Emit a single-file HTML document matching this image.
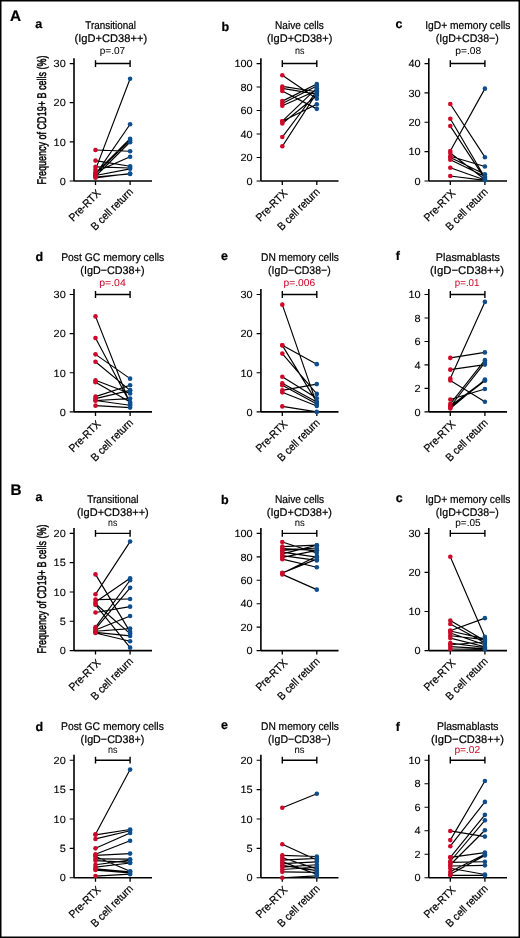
<!DOCTYPE html><html><head><meta charset="utf-8"><title>Figure</title><style>
html,body{margin:0;padding:0;background:#fff;}body{width:520px;height:938px;overflow:hidden;}
svg{display:block;will-change:transform;}text{font-family:"Liberation Sans",sans-serif;fill:#000;text-rendering:geometricPrecision;stroke:#000;stroke-width:0.22px;}
</style></head><body>
<svg width="520" height="938" viewBox="0 0 520 938">
<rect x="0" y="0" width="520" height="938" fill="#fff"/>
<g><path d="M74 58.15V180.95M74 180.95H152" stroke="#000" stroke-width="1.6" fill="none"/><path d="M69.7 180.95H74M69.7 141.82H74M69.7 102.68H74M69.7 63.55H74" stroke="#000" stroke-width="1.15" fill="none"/><path d="M95.5 180.95V184.95M130.1 180.95V184.95" stroke="#000" stroke-width="1.3" fill="none"/><text x="65.8" y="184.7" font-size="10.4" text-anchor="end" textLength="6.1" lengthAdjust="spacingAndGlyphs" style="stroke-width:0.1px">0</text><text x="65.8" y="145.57" font-size="10.4" text-anchor="end" textLength="12.2" lengthAdjust="spacingAndGlyphs" style="stroke-width:0.1px">10</text><text x="65.8" y="106.43" font-size="10.4" text-anchor="end" textLength="12.2" lengthAdjust="spacingAndGlyphs" style="stroke-width:0.1px">20</text><text x="65.8" y="67.3" font-size="10.4" text-anchor="end" textLength="12.2" lengthAdjust="spacingAndGlyphs" style="stroke-width:0.1px">30</text><path d="M95.5 63.55H130.1M95.5 60.15V66.95M130.1 60.15V66.95" stroke="#000" stroke-width="1.4" fill="none"/><path d="M95.5 169.6L130.1 78.81M95.5 174.69L130.1 124.21M95.5 173.12L130.1 138.69M95.5 173.91L130.1 140.45M95.5 176.25L130.1 142.21M95.5 150.03L130.1 151.21M95.5 171.95L130.1 156.69M95.5 160.6L130.1 166.27M95.5 166.86L130.1 168.04M95.5 175.47L130.1 168.82M95.5 177.04L130.1 173.91M95.5 177.82L130.1 173.51" stroke="#000" stroke-width="1.15" fill="none"/><circle cx="95.5" cy="169.6" r="2.3" fill="#cc0a2a"/><circle cx="95.5" cy="174.69" r="2.3" fill="#cc0a2a"/><circle cx="95.5" cy="173.12" r="2.3" fill="#cc0a2a"/><circle cx="95.5" cy="173.91" r="2.3" fill="#cc0a2a"/><circle cx="95.5" cy="176.25" r="2.3" fill="#cc0a2a"/><circle cx="95.5" cy="150.03" r="2.3" fill="#cc0a2a"/><circle cx="95.5" cy="171.95" r="2.3" fill="#cc0a2a"/><circle cx="95.5" cy="160.6" r="2.3" fill="#cc0a2a"/><circle cx="95.5" cy="166.86" r="2.3" fill="#cc0a2a"/><circle cx="95.5" cy="175.47" r="2.3" fill="#cc0a2a"/><circle cx="95.5" cy="177.04" r="2.3" fill="#cc0a2a"/><circle cx="95.5" cy="177.82" r="2.3" fill="#cc0a2a"/><circle cx="130.1" cy="78.81" r="2.3" fill="#0f4e8b"/><circle cx="130.1" cy="124.21" r="2.3" fill="#0f4e8b"/><circle cx="130.1" cy="138.69" r="2.3" fill="#0f4e8b"/><circle cx="130.1" cy="140.45" r="2.3" fill="#0f4e8b"/><circle cx="130.1" cy="142.21" r="2.3" fill="#0f4e8b"/><circle cx="130.1" cy="151.21" r="2.3" fill="#0f4e8b"/><circle cx="130.1" cy="156.69" r="2.3" fill="#0f4e8b"/><circle cx="130.1" cy="166.27" r="2.3" fill="#0f4e8b"/><circle cx="130.1" cy="168.04" r="2.3" fill="#0f4e8b"/><circle cx="130.1" cy="168.82" r="2.3" fill="#0f4e8b"/><circle cx="130.1" cy="173.91" r="2.3" fill="#0f4e8b"/><circle cx="130.1" cy="173.51" r="2.3" fill="#0f4e8b"/><text transform="translate(101.3 193.95) rotate(-45)" font-size="11" text-anchor="end" textLength="39.5" lengthAdjust="spacingAndGlyphs">Pre-RTX</text><text transform="translate(133.7 192.45) rotate(-45)" font-size="11" text-anchor="end" textLength="54.5" lengthAdjust="spacingAndGlyphs">B cell return</text><text x="110.65" y="29.2" font-size="11.2" text-anchor="middle" textLength="50.7" lengthAdjust="spacingAndGlyphs" style="fill:#000;stroke:#000;stroke-width:0.22px">Transitional</text><text x="110.85" y="42.4" font-size="11.2" text-anchor="middle" textLength="72.5" lengthAdjust="spacingAndGlyphs" style="fill:#000;stroke:#000;stroke-width:0.22px">(IgD+CD38++)</text><text x="112.45" y="54.4" font-size="10.0" text-anchor="middle" textLength="25.5" lengthAdjust="spacingAndGlyphs" style="fill:#000;stroke:#000;stroke-width:0.05px">p=.07</text></g>
<g><path d="M260.9 58.15V180.95M260.9 180.95H338.5" stroke="#000" stroke-width="1.6" fill="none"/><path d="M256.6 180.95H260.9M256.6 157.47H260.9M256.6 133.99H260.9M256.6 110.51H260.9M256.6 87.03H260.9M256.6 63.55H260.9" stroke="#000" stroke-width="1.15" fill="none"/><path d="M282.3 180.95V184.95M316.8 180.95V184.95" stroke="#000" stroke-width="1.3" fill="none"/><text x="252.7" y="184.7" font-size="10.4" text-anchor="end" textLength="6.1" lengthAdjust="spacingAndGlyphs" style="stroke-width:0.1px">0</text><text x="252.7" y="161.22" font-size="10.4" text-anchor="end" textLength="12.2" lengthAdjust="spacingAndGlyphs" style="stroke-width:0.1px">20</text><text x="252.7" y="137.74" font-size="10.4" text-anchor="end" textLength="12.2" lengthAdjust="spacingAndGlyphs" style="stroke-width:0.1px">40</text><text x="252.7" y="114.26" font-size="10.4" text-anchor="end" textLength="12.2" lengthAdjust="spacingAndGlyphs" style="stroke-width:0.1px">60</text><text x="252.7" y="90.78" font-size="10.4" text-anchor="end" textLength="12.2" lengthAdjust="spacingAndGlyphs" style="stroke-width:0.1px">80</text><text x="252.7" y="67.3" font-size="10.4" text-anchor="end" textLength="18.3" lengthAdjust="spacingAndGlyphs" style="stroke-width:0.1px">100</text><path d="M282.3 63.55H316.8M282.3 60.15V66.95M316.8 60.15V66.95" stroke="#000" stroke-width="1.4" fill="none"/><path d="M282.3 75.29L316.8 98.77M282.3 86.44L316.8 91.73M282.3 88.44L316.8 94.07M282.3 90.9L316.8 108.87M282.3 101.12L316.8 84.09M282.3 103.47L316.8 86.09M282.3 105.81L316.8 90.55M282.3 121.19L316.8 88.2M282.3 121.19L316.8 104.29M282.3 123.54L316.8 95.48M282.3 137.04L316.8 91.26M282.3 146.32L316.8 93.02" stroke="#000" stroke-width="1.15" fill="none"/><circle cx="282.3" cy="75.29" r="2.3" fill="#cc0a2a"/><circle cx="282.3" cy="86.44" r="2.3" fill="#cc0a2a"/><circle cx="282.3" cy="88.44" r="2.3" fill="#cc0a2a"/><circle cx="282.3" cy="90.9" r="2.3" fill="#cc0a2a"/><circle cx="282.3" cy="101.12" r="2.3" fill="#cc0a2a"/><circle cx="282.3" cy="103.47" r="2.3" fill="#cc0a2a"/><circle cx="282.3" cy="105.81" r="2.3" fill="#cc0a2a"/><circle cx="282.3" cy="121.19" r="2.3" fill="#cc0a2a"/><circle cx="282.3" cy="121.19" r="2.3" fill="#cc0a2a"/><circle cx="282.3" cy="123.54" r="2.3" fill="#cc0a2a"/><circle cx="282.3" cy="137.04" r="2.3" fill="#cc0a2a"/><circle cx="282.3" cy="146.32" r="2.3" fill="#cc0a2a"/><circle cx="316.8" cy="98.77" r="2.3" fill="#0f4e8b"/><circle cx="316.8" cy="91.73" r="2.3" fill="#0f4e8b"/><circle cx="316.8" cy="94.07" r="2.3" fill="#0f4e8b"/><circle cx="316.8" cy="108.87" r="2.3" fill="#0f4e8b"/><circle cx="316.8" cy="84.09" r="2.3" fill="#0f4e8b"/><circle cx="316.8" cy="86.09" r="2.3" fill="#0f4e8b"/><circle cx="316.8" cy="90.55" r="2.3" fill="#0f4e8b"/><circle cx="316.8" cy="88.2" r="2.3" fill="#0f4e8b"/><circle cx="316.8" cy="104.29" r="2.3" fill="#0f4e8b"/><circle cx="316.8" cy="95.48" r="2.3" fill="#0f4e8b"/><circle cx="316.8" cy="91.26" r="2.3" fill="#0f4e8b"/><circle cx="316.8" cy="93.02" r="2.3" fill="#0f4e8b"/><text transform="translate(288.1 193.95) rotate(-45)" font-size="11" text-anchor="end" textLength="39.5" lengthAdjust="spacingAndGlyphs">Pre-RTX</text><text transform="translate(320.4 192.45) rotate(-45)" font-size="11" text-anchor="end" textLength="54.5" lengthAdjust="spacingAndGlyphs">B cell return</text><text x="299.45" y="29.2" font-size="11.2" text-anchor="middle" textLength="48.7" lengthAdjust="spacingAndGlyphs" style="fill:#000;stroke:#000;stroke-width:0.22px">Naive cells</text><text x="299.6" y="42.4" font-size="11.2" text-anchor="middle" textLength="65.4" lengthAdjust="spacingAndGlyphs" style="fill:#000;stroke:#000;stroke-width:0.22px">(IgD+CD38+)</text><text x="299.85" y="54.4" font-size="10.0" text-anchor="middle" textLength="9.5" lengthAdjust="spacingAndGlyphs" style="fill:#000;stroke:#000;stroke-width:0.05px">ns</text></g>
<g><path d="M428.8 58.15V180.95M428.8 180.95H507" stroke="#000" stroke-width="1.6" fill="none"/><path d="M424.5 180.95H428.8M424.5 151.6H428.8M424.5 122.25H428.8M424.5 92.9H428.8M424.5 63.55H428.8" stroke="#000" stroke-width="1.15" fill="none"/><path d="M450.3 180.95V184.95M484.9 180.95V184.95" stroke="#000" stroke-width="1.3" fill="none"/><text x="420.6" y="184.7" font-size="10.4" text-anchor="end" textLength="6.1" lengthAdjust="spacingAndGlyphs" style="stroke-width:0.1px">0</text><text x="420.6" y="155.35" font-size="10.4" text-anchor="end" textLength="12.2" lengthAdjust="spacingAndGlyphs" style="stroke-width:0.1px">10</text><text x="420.6" y="126" font-size="10.4" text-anchor="end" textLength="12.2" lengthAdjust="spacingAndGlyphs" style="stroke-width:0.1px">20</text><text x="420.6" y="96.65" font-size="10.4" text-anchor="end" textLength="12.2" lengthAdjust="spacingAndGlyphs" style="stroke-width:0.1px">30</text><text x="420.6" y="67.3" font-size="10.4" text-anchor="end" textLength="12.2" lengthAdjust="spacingAndGlyphs" style="stroke-width:0.1px">40</text><path d="M450.3 63.55H484.9M450.3 60.15V66.95M484.9 60.15V66.95" stroke="#000" stroke-width="1.4" fill="none"/><path d="M450.3 151.01L484.9 88.64M450.3 104.05L484.9 157.18M450.3 118.73L484.9 177.43M450.3 126.07L484.9 178.6M450.3 153.07L484.9 179.48M450.3 156.3L484.9 166.57M450.3 159.82L484.9 176.55M450.3 157.47L484.9 174.2M450.3 167.74L484.9 180.07M450.3 175.96L484.9 180.36" stroke="#000" stroke-width="1.15" fill="none"/><circle cx="450.3" cy="151.01" r="2.3" fill="#cc0a2a"/><circle cx="450.3" cy="104.05" r="2.3" fill="#cc0a2a"/><circle cx="450.3" cy="118.73" r="2.3" fill="#cc0a2a"/><circle cx="450.3" cy="126.07" r="2.3" fill="#cc0a2a"/><circle cx="450.3" cy="153.07" r="2.3" fill="#cc0a2a"/><circle cx="450.3" cy="156.3" r="2.3" fill="#cc0a2a"/><circle cx="450.3" cy="159.82" r="2.3" fill="#cc0a2a"/><circle cx="450.3" cy="157.47" r="2.3" fill="#cc0a2a"/><circle cx="450.3" cy="167.74" r="2.3" fill="#cc0a2a"/><circle cx="450.3" cy="175.96" r="2.3" fill="#cc0a2a"/><circle cx="484.9" cy="88.64" r="2.3" fill="#0f4e8b"/><circle cx="484.9" cy="157.18" r="2.3" fill="#0f4e8b"/><circle cx="484.9" cy="177.43" r="2.3" fill="#0f4e8b"/><circle cx="484.9" cy="178.6" r="2.3" fill="#0f4e8b"/><circle cx="484.9" cy="179.48" r="2.3" fill="#0f4e8b"/><circle cx="484.9" cy="166.57" r="2.3" fill="#0f4e8b"/><circle cx="484.9" cy="176.55" r="2.3" fill="#0f4e8b"/><circle cx="484.9" cy="174.2" r="2.3" fill="#0f4e8b"/><circle cx="484.9" cy="180.07" r="2.3" fill="#0f4e8b"/><circle cx="484.9" cy="180.36" r="2.3" fill="#0f4e8b"/><text transform="translate(456.1 193.95) rotate(-45)" font-size="11" text-anchor="end" textLength="39.5" lengthAdjust="spacingAndGlyphs">Pre-RTX</text><text transform="translate(488.5 192.45) rotate(-45)" font-size="11" text-anchor="end" textLength="54.5" lengthAdjust="spacingAndGlyphs">B cell return</text><text x="467.8" y="29.2" font-size="11.2" text-anchor="middle" textLength="85.2" lengthAdjust="spacingAndGlyphs" style="fill:#000;stroke:#000;stroke-width:0.22px">IgD+ memory cells</text><text x="467.3" y="42.4" font-size="11.2" text-anchor="middle" textLength="63" lengthAdjust="spacingAndGlyphs" style="fill:#000;stroke:#000;stroke-width:0.22px">(IgD+CD38−)</text><text x="468.2" y="54.4" font-size="10.0" text-anchor="middle" textLength="26" lengthAdjust="spacingAndGlyphs" style="fill:#000;stroke:#000;stroke-width:0.05px">p=.08</text></g>
<g><path d="M74 289.1V411.9M74 411.9H152" stroke="#000" stroke-width="1.6" fill="none"/><path d="M69.7 411.9H74M69.7 372.77H74M69.7 333.63H74M69.7 294.5H74" stroke="#000" stroke-width="1.15" fill="none"/><path d="M95.5 411.9V415.9M130.1 411.9V415.9" stroke="#000" stroke-width="1.3" fill="none"/><text x="65.8" y="415.65" font-size="10.4" text-anchor="end" textLength="6.1" lengthAdjust="spacingAndGlyphs" style="stroke-width:0.1px">0</text><text x="65.8" y="376.52" font-size="10.4" text-anchor="end" textLength="12.2" lengthAdjust="spacingAndGlyphs" style="stroke-width:0.1px">10</text><text x="65.8" y="337.38" font-size="10.4" text-anchor="end" textLength="12.2" lengthAdjust="spacingAndGlyphs" style="stroke-width:0.1px">20</text><text x="65.8" y="298.25" font-size="10.4" text-anchor="end" textLength="12.2" lengthAdjust="spacingAndGlyphs" style="stroke-width:0.1px">30</text><path d="M95.5 294.5H130.1M95.5 291.1V297.9M130.1 291.1V297.9" stroke="#000" stroke-width="1.4" fill="none"/><path d="M95.5 316.41L130.1 404.07M95.5 337.94L130.1 402.9M95.5 354.37L130.1 378.64M95.5 361.81L130.1 390.38M95.5 380.2L130.1 393.51M95.5 382.16L130.1 402.12M95.5 396.64L130.1 385.29M95.5 398.59L130.1 390.38M95.5 400.55L130.1 398.59M95.5 400.55L130.1 405.25M95.5 405.64L130.1 407.6" stroke="#000" stroke-width="1.15" fill="none"/><circle cx="95.5" cy="316.41" r="2.3" fill="#cc0a2a"/><circle cx="95.5" cy="337.94" r="2.3" fill="#cc0a2a"/><circle cx="95.5" cy="354.37" r="2.3" fill="#cc0a2a"/><circle cx="95.5" cy="361.81" r="2.3" fill="#cc0a2a"/><circle cx="95.5" cy="380.2" r="2.3" fill="#cc0a2a"/><circle cx="95.5" cy="382.16" r="2.3" fill="#cc0a2a"/><circle cx="95.5" cy="396.64" r="2.3" fill="#cc0a2a"/><circle cx="95.5" cy="398.59" r="2.3" fill="#cc0a2a"/><circle cx="95.5" cy="400.55" r="2.3" fill="#cc0a2a"/><circle cx="95.5" cy="400.55" r="2.3" fill="#cc0a2a"/><circle cx="95.5" cy="405.64" r="2.3" fill="#cc0a2a"/><circle cx="130.1" cy="404.07" r="2.3" fill="#0f4e8b"/><circle cx="130.1" cy="402.9" r="2.3" fill="#0f4e8b"/><circle cx="130.1" cy="378.64" r="2.3" fill="#0f4e8b"/><circle cx="130.1" cy="390.38" r="2.3" fill="#0f4e8b"/><circle cx="130.1" cy="393.51" r="2.3" fill="#0f4e8b"/><circle cx="130.1" cy="402.12" r="2.3" fill="#0f4e8b"/><circle cx="130.1" cy="385.29" r="2.3" fill="#0f4e8b"/><circle cx="130.1" cy="390.38" r="2.3" fill="#0f4e8b"/><circle cx="130.1" cy="398.59" r="2.3" fill="#0f4e8b"/><circle cx="130.1" cy="405.25" r="2.3" fill="#0f4e8b"/><circle cx="130.1" cy="407.6" r="2.3" fill="#0f4e8b"/><text transform="translate(101.3 424.9) rotate(-45)" font-size="11" text-anchor="end" textLength="39.5" lengthAdjust="spacingAndGlyphs">Pre-RTX</text><text transform="translate(133.7 423.4) rotate(-45)" font-size="11" text-anchor="end" textLength="54.5" lengthAdjust="spacingAndGlyphs">B cell return</text><text x="112.75" y="260.8" font-size="11.2" text-anchor="middle" textLength="103.1" lengthAdjust="spacingAndGlyphs" style="fill:#000;stroke:#000;stroke-width:0.22px">Post GC memory cells</text><text x="112.4" y="273.8" font-size="11.2" text-anchor="middle" textLength="64.2" lengthAdjust="spacingAndGlyphs" style="fill:#000;stroke:#000;stroke-width:0.22px">(IgD−CD38+)</text><text x="112.5" y="285.8" font-size="10.0" text-anchor="middle" textLength="26.4" lengthAdjust="spacingAndGlyphs" style="fill:#cc0a2a;stroke:#cc0a2a;stroke-width:0.05px">p=.04</text></g>
<g><path d="M260.9 289.1V411.9M260.9 411.9H338.5" stroke="#000" stroke-width="1.6" fill="none"/><path d="M256.6 411.9H260.9M256.6 372.77H260.9M256.6 333.63H260.9M256.6 294.5H260.9" stroke="#000" stroke-width="1.15" fill="none"/><path d="M282.3 411.9V415.9M316.8 411.9V415.9" stroke="#000" stroke-width="1.3" fill="none"/><text x="252.7" y="415.65" font-size="10.4" text-anchor="end" textLength="6.1" lengthAdjust="spacingAndGlyphs" style="stroke-width:0.1px">0</text><text x="252.7" y="376.52" font-size="10.4" text-anchor="end" textLength="12.2" lengthAdjust="spacingAndGlyphs" style="stroke-width:0.1px">10</text><text x="252.7" y="337.38" font-size="10.4" text-anchor="end" textLength="12.2" lengthAdjust="spacingAndGlyphs" style="stroke-width:0.1px">20</text><text x="252.7" y="298.25" font-size="10.4" text-anchor="end" textLength="12.2" lengthAdjust="spacingAndGlyphs" style="stroke-width:0.1px">30</text><path d="M282.3 294.5H316.8M282.3 291.1V297.9M316.8 291.1V297.9" stroke="#000" stroke-width="1.4" fill="none"/><path d="M282.3 304.67L316.8 404.07M282.3 345.37L316.8 364.16M282.3 345.37L316.8 402.12M282.3 353.59L316.8 393.9M282.3 376.68L316.8 398.2M282.3 383.33L316.8 402.12M282.3 385.29L316.8 404.07M282.3 390.38L316.8 384.12M282.3 392.33L316.8 406.03M282.3 406.42L316.8 411.9" stroke="#000" stroke-width="1.15" fill="none"/><circle cx="282.3" cy="304.67" r="2.3" fill="#cc0a2a"/><circle cx="282.3" cy="345.37" r="2.3" fill="#cc0a2a"/><circle cx="282.3" cy="345.37" r="2.3" fill="#cc0a2a"/><circle cx="282.3" cy="353.59" r="2.3" fill="#cc0a2a"/><circle cx="282.3" cy="376.68" r="2.3" fill="#cc0a2a"/><circle cx="282.3" cy="383.33" r="2.3" fill="#cc0a2a"/><circle cx="282.3" cy="385.29" r="2.3" fill="#cc0a2a"/><circle cx="282.3" cy="390.38" r="2.3" fill="#cc0a2a"/><circle cx="282.3" cy="392.33" r="2.3" fill="#cc0a2a"/><circle cx="282.3" cy="406.42" r="2.3" fill="#cc0a2a"/><circle cx="316.8" cy="404.07" r="2.3" fill="#0f4e8b"/><circle cx="316.8" cy="364.16" r="2.3" fill="#0f4e8b"/><circle cx="316.8" cy="402.12" r="2.3" fill="#0f4e8b"/><circle cx="316.8" cy="393.9" r="2.3" fill="#0f4e8b"/><circle cx="316.8" cy="398.2" r="2.3" fill="#0f4e8b"/><circle cx="316.8" cy="402.12" r="2.3" fill="#0f4e8b"/><circle cx="316.8" cy="404.07" r="2.3" fill="#0f4e8b"/><circle cx="316.8" cy="384.12" r="2.3" fill="#0f4e8b"/><circle cx="316.8" cy="406.03" r="2.3" fill="#0f4e8b"/><circle cx="316.8" cy="411.9" r="2.3" fill="#0f4e8b"/><text transform="translate(288.1 424.9) rotate(-45)" font-size="11" text-anchor="end" textLength="39.5" lengthAdjust="spacingAndGlyphs">Pre-RTX</text><text transform="translate(320.4 423.4) rotate(-45)" font-size="11" text-anchor="end" textLength="54.5" lengthAdjust="spacingAndGlyphs">B cell return</text><text x="299.95" y="260.8" font-size="11.2" text-anchor="middle" textLength="77.9" lengthAdjust="spacingAndGlyphs" style="fill:#000;stroke:#000;stroke-width:0.22px">DN memory cells</text><text x="299.4" y="273.8" font-size="11.2" text-anchor="middle" textLength="62.6" lengthAdjust="spacingAndGlyphs" style="fill:#000;stroke:#000;stroke-width:0.22px">(IgD−CD38−)</text><text x="299.4" y="285.8" font-size="10.0" text-anchor="middle" textLength="31.6" lengthAdjust="spacingAndGlyphs" style="fill:#cc0a2a;stroke:#cc0a2a;stroke-width:0.05px">p=.006</text></g>
<g><path d="M428.8 289.1V411.9M428.8 411.9H507" stroke="#000" stroke-width="1.6" fill="none"/><path d="M424.5 411.9H428.8M424.5 388.42H428.8M424.5 364.94H428.8M424.5 341.46H428.8M424.5 317.98H428.8M424.5 294.5H428.8" stroke="#000" stroke-width="1.15" fill="none"/><path d="M450.3 411.9V415.9M484.9 411.9V415.9" stroke="#000" stroke-width="1.3" fill="none"/><text x="420.6" y="415.65" font-size="10.4" text-anchor="end" textLength="6.1" lengthAdjust="spacingAndGlyphs" style="stroke-width:0.1px">0</text><text x="420.6" y="392.17" font-size="10.4" text-anchor="end" textLength="6.1" lengthAdjust="spacingAndGlyphs" style="stroke-width:0.1px">2</text><text x="420.6" y="368.69" font-size="10.4" text-anchor="end" textLength="6.1" lengthAdjust="spacingAndGlyphs" style="stroke-width:0.1px">4</text><text x="420.6" y="345.21" font-size="10.4" text-anchor="end" textLength="6.1" lengthAdjust="spacingAndGlyphs" style="stroke-width:0.1px">6</text><text x="420.6" y="321.73" font-size="10.4" text-anchor="end" textLength="6.1" lengthAdjust="spacingAndGlyphs" style="stroke-width:0.1px">8</text><text x="420.6" y="298.25" font-size="10.4" text-anchor="end" textLength="12.2" lengthAdjust="spacingAndGlyphs" style="stroke-width:0.1px">10</text><path d="M450.3 294.5H484.9M450.3 291.1V297.9M484.9 291.1V297.9" stroke="#000" stroke-width="1.4" fill="none"/><path d="M450.3 378.56L484.9 301.9M450.3 357.9L484.9 352.38M450.3 369.64L484.9 364.59M450.3 380.55L484.9 401.69M450.3 399.46L484.9 389.01M450.3 403.92L484.9 360.13M450.3 406.5L484.9 362.59M450.3 408.5L484.9 379.62M450.3 406.03L484.9 380.2M450.3 407.2L484.9 380.79" stroke="#000" stroke-width="1.15" fill="none"/><circle cx="450.3" cy="378.56" r="2.3" fill="#cc0a2a"/><circle cx="450.3" cy="357.9" r="2.3" fill="#cc0a2a"/><circle cx="450.3" cy="369.64" r="2.3" fill="#cc0a2a"/><circle cx="450.3" cy="380.55" r="2.3" fill="#cc0a2a"/><circle cx="450.3" cy="399.46" r="2.3" fill="#cc0a2a"/><circle cx="450.3" cy="403.92" r="2.3" fill="#cc0a2a"/><circle cx="450.3" cy="406.5" r="2.3" fill="#cc0a2a"/><circle cx="450.3" cy="408.5" r="2.3" fill="#cc0a2a"/><circle cx="450.3" cy="406.03" r="2.3" fill="#cc0a2a"/><circle cx="450.3" cy="407.2" r="2.3" fill="#cc0a2a"/><circle cx="484.9" cy="301.9" r="2.3" fill="#0f4e8b"/><circle cx="484.9" cy="352.38" r="2.3" fill="#0f4e8b"/><circle cx="484.9" cy="364.59" r="2.3" fill="#0f4e8b"/><circle cx="484.9" cy="401.69" r="2.3" fill="#0f4e8b"/><circle cx="484.9" cy="389.01" r="2.3" fill="#0f4e8b"/><circle cx="484.9" cy="360.13" r="2.3" fill="#0f4e8b"/><circle cx="484.9" cy="362.59" r="2.3" fill="#0f4e8b"/><circle cx="484.9" cy="379.62" r="2.3" fill="#0f4e8b"/><circle cx="484.9" cy="380.2" r="2.3" fill="#0f4e8b"/><circle cx="484.9" cy="380.79" r="2.3" fill="#0f4e8b"/><text transform="translate(456.1 424.9) rotate(-45)" font-size="11" text-anchor="end" textLength="39.5" lengthAdjust="spacingAndGlyphs">Pre-RTX</text><text transform="translate(488.5 423.4) rotate(-45)" font-size="11" text-anchor="end" textLength="54.5" lengthAdjust="spacingAndGlyphs">B cell return</text><text x="467.85" y="260.8" font-size="11.2" text-anchor="middle" textLength="64.1" lengthAdjust="spacingAndGlyphs" style="fill:#000;stroke:#000;stroke-width:0.22px">Plasmablasts</text><text x="467.1" y="273.8" font-size="11.2" text-anchor="middle" textLength="74" lengthAdjust="spacingAndGlyphs" style="fill:#000;stroke:#000;stroke-width:0.22px">(IgD−CD38++)</text><text x="467.1" y="285.8" font-size="10.0" text-anchor="middle" textLength="24.6" lengthAdjust="spacingAndGlyphs" style="fill:#cc0a2a;stroke:#cc0a2a;stroke-width:0.05px">p=.01</text></g>
<g><path d="M74 527.95V650.6M74 650.6H152" stroke="#000" stroke-width="1.6" fill="none"/><path d="M69.7 650.6H74M69.7 621.29H74M69.7 591.98H74M69.7 562.66H74M69.7 533.35H74" stroke="#000" stroke-width="1.15" fill="none"/><path d="M95.5 650.6V654.6M130.1 650.6V654.6" stroke="#000" stroke-width="1.3" fill="none"/><text x="65.8" y="654.35" font-size="10.4" text-anchor="end" textLength="6.1" lengthAdjust="spacingAndGlyphs" style="stroke-width:0.1px">0</text><text x="65.8" y="625.04" font-size="10.4" text-anchor="end" textLength="6.1" lengthAdjust="spacingAndGlyphs" style="stroke-width:0.1px">5</text><text x="65.8" y="595.73" font-size="10.4" text-anchor="end" textLength="12.2" lengthAdjust="spacingAndGlyphs" style="stroke-width:0.1px">10</text><text x="65.8" y="566.41" font-size="10.4" text-anchor="end" textLength="12.2" lengthAdjust="spacingAndGlyphs" style="stroke-width:0.1px">15</text><text x="65.8" y="537.1" font-size="10.4" text-anchor="end" textLength="12.2" lengthAdjust="spacingAndGlyphs" style="stroke-width:0.1px">20</text><path d="M95.5 533.35H130.1M95.5 529.95V536.75M130.1 529.95V536.75" stroke="#000" stroke-width="1.4" fill="none"/><path d="M95.5 574.39L130.1 631.84M95.5 594.32L130.1 541.56M95.5 599.6L130.1 599.01M95.5 601.94L130.1 578.2M95.5 603.7L130.1 633.6M95.5 604.87L130.1 647.67M95.5 612.49L130.1 606.63M95.5 627.15L130.1 580.25M95.5 628.91L130.1 587.87M95.5 630.08L130.1 616.01M95.5 631.25L130.1 628.62M95.5 632.43L130.1 635.94M95.5 633.01L130.1 641.22" stroke="#000" stroke-width="1.15" fill="none"/><circle cx="95.5" cy="574.39" r="2.3" fill="#cc0a2a"/><circle cx="95.5" cy="594.32" r="2.3" fill="#cc0a2a"/><circle cx="95.5" cy="599.6" r="2.3" fill="#cc0a2a"/><circle cx="95.5" cy="601.94" r="2.3" fill="#cc0a2a"/><circle cx="95.5" cy="603.7" r="2.3" fill="#cc0a2a"/><circle cx="95.5" cy="604.87" r="2.3" fill="#cc0a2a"/><circle cx="95.5" cy="612.49" r="2.3" fill="#cc0a2a"/><circle cx="95.5" cy="627.15" r="2.3" fill="#cc0a2a"/><circle cx="95.5" cy="628.91" r="2.3" fill="#cc0a2a"/><circle cx="95.5" cy="630.08" r="2.3" fill="#cc0a2a"/><circle cx="95.5" cy="631.25" r="2.3" fill="#cc0a2a"/><circle cx="95.5" cy="632.43" r="2.3" fill="#cc0a2a"/><circle cx="95.5" cy="633.01" r="2.3" fill="#cc0a2a"/><circle cx="130.1" cy="631.84" r="2.3" fill="#0f4e8b"/><circle cx="130.1" cy="541.56" r="2.3" fill="#0f4e8b"/><circle cx="130.1" cy="599.01" r="2.3" fill="#0f4e8b"/><circle cx="130.1" cy="578.2" r="2.3" fill="#0f4e8b"/><circle cx="130.1" cy="633.6" r="2.3" fill="#0f4e8b"/><circle cx="130.1" cy="647.67" r="2.3" fill="#0f4e8b"/><circle cx="130.1" cy="606.63" r="2.3" fill="#0f4e8b"/><circle cx="130.1" cy="580.25" r="2.3" fill="#0f4e8b"/><circle cx="130.1" cy="587.87" r="2.3" fill="#0f4e8b"/><circle cx="130.1" cy="616.01" r="2.3" fill="#0f4e8b"/><circle cx="130.1" cy="628.62" r="2.3" fill="#0f4e8b"/><circle cx="130.1" cy="635.94" r="2.3" fill="#0f4e8b"/><circle cx="130.1" cy="641.22" r="2.3" fill="#0f4e8b"/><text transform="translate(101.3 663.6) rotate(-45)" font-size="11" text-anchor="end" textLength="39.5" lengthAdjust="spacingAndGlyphs">Pre-RTX</text><text transform="translate(133.7 662.1) rotate(-45)" font-size="11" text-anchor="end" textLength="54.5" lengthAdjust="spacingAndGlyphs">B cell return</text><text x="112.85" y="502.8" font-size="11.2" text-anchor="middle" textLength="51.3" lengthAdjust="spacingAndGlyphs" style="fill:#000;stroke:#000;stroke-width:0.22px">Transitional</text><text x="112.85" y="515.7" font-size="11.2" text-anchor="middle" textLength="71.9" lengthAdjust="spacingAndGlyphs" style="fill:#000;stroke:#000;stroke-width:0.22px">(IgD+CD38++)</text><text x="112.7" y="526.1" font-size="10.0" text-anchor="middle" textLength="9.2" lengthAdjust="spacingAndGlyphs" style="fill:#000;stroke:#000;stroke-width:0.05px">ns</text></g>
<g><path d="M260.9 527.95V650.6M260.9 650.6H338.5" stroke="#000" stroke-width="1.6" fill="none"/><path d="M256.6 650.6H260.9M256.6 627.15H260.9M256.6 603.7H260.9M256.6 580.25H260.9M256.6 556.8H260.9M256.6 533.35H260.9" stroke="#000" stroke-width="1.15" fill="none"/><path d="M282.3 650.6V654.6M316.8 650.6V654.6" stroke="#000" stroke-width="1.3" fill="none"/><text x="252.7" y="654.35" font-size="10.4" text-anchor="end" textLength="6.1" lengthAdjust="spacingAndGlyphs" style="stroke-width:0.1px">0</text><text x="252.7" y="630.9" font-size="10.4" text-anchor="end" textLength="12.2" lengthAdjust="spacingAndGlyphs" style="stroke-width:0.1px">20</text><text x="252.7" y="607.45" font-size="10.4" text-anchor="end" textLength="12.2" lengthAdjust="spacingAndGlyphs" style="stroke-width:0.1px">40</text><text x="252.7" y="584" font-size="10.4" text-anchor="end" textLength="12.2" lengthAdjust="spacingAndGlyphs" style="stroke-width:0.1px">60</text><text x="252.7" y="560.55" font-size="10.4" text-anchor="end" textLength="12.2" lengthAdjust="spacingAndGlyphs" style="stroke-width:0.1px">80</text><text x="252.7" y="537.1" font-size="10.4" text-anchor="end" textLength="18.3" lengthAdjust="spacingAndGlyphs" style="stroke-width:0.1px">100</text><path d="M282.3 533.35H316.8M282.3 529.95V536.75M316.8 529.95V536.75" stroke="#000" stroke-width="1.4" fill="none"/><path d="M282.3 542.03L316.8 553.05M282.3 546.6L316.8 545.19M282.3 548.59L316.8 550.35M282.3 550.35L316.8 548.01M282.3 552.11L316.8 557.15M282.3 553.87L316.8 545.19M282.3 555.63L316.8 560.43M282.3 557.39L316.8 550.35M282.3 559.14L316.8 567.24M282.3 572.86L316.8 559.14M282.3 573.22L316.8 556.21M282.3 574.39L316.8 589.63" stroke="#000" stroke-width="1.15" fill="none"/><circle cx="282.3" cy="542.03" r="2.3" fill="#cc0a2a"/><circle cx="282.3" cy="546.6" r="2.3" fill="#cc0a2a"/><circle cx="282.3" cy="548.59" r="2.3" fill="#cc0a2a"/><circle cx="282.3" cy="550.35" r="2.3" fill="#cc0a2a"/><circle cx="282.3" cy="552.11" r="2.3" fill="#cc0a2a"/><circle cx="282.3" cy="553.87" r="2.3" fill="#cc0a2a"/><circle cx="282.3" cy="555.63" r="2.3" fill="#cc0a2a"/><circle cx="282.3" cy="557.39" r="2.3" fill="#cc0a2a"/><circle cx="282.3" cy="559.14" r="2.3" fill="#cc0a2a"/><circle cx="282.3" cy="572.86" r="2.3" fill="#cc0a2a"/><circle cx="282.3" cy="573.22" r="2.3" fill="#cc0a2a"/><circle cx="282.3" cy="574.39" r="2.3" fill="#cc0a2a"/><circle cx="316.8" cy="553.05" r="2.3" fill="#0f4e8b"/><circle cx="316.8" cy="545.19" r="2.3" fill="#0f4e8b"/><circle cx="316.8" cy="550.35" r="2.3" fill="#0f4e8b"/><circle cx="316.8" cy="548.01" r="2.3" fill="#0f4e8b"/><circle cx="316.8" cy="557.15" r="2.3" fill="#0f4e8b"/><circle cx="316.8" cy="545.19" r="2.3" fill="#0f4e8b"/><circle cx="316.8" cy="560.43" r="2.3" fill="#0f4e8b"/><circle cx="316.8" cy="550.35" r="2.3" fill="#0f4e8b"/><circle cx="316.8" cy="567.24" r="2.3" fill="#0f4e8b"/><circle cx="316.8" cy="559.14" r="2.3" fill="#0f4e8b"/><circle cx="316.8" cy="556.21" r="2.3" fill="#0f4e8b"/><circle cx="316.8" cy="589.63" r="2.3" fill="#0f4e8b"/><text transform="translate(288.1 663.6) rotate(-45)" font-size="11" text-anchor="end" textLength="39.5" lengthAdjust="spacingAndGlyphs">Pre-RTX</text><text transform="translate(320.4 662.1) rotate(-45)" font-size="11" text-anchor="end" textLength="54.5" lengthAdjust="spacingAndGlyphs">B cell return</text><text x="299.55" y="502.8" font-size="11.2" text-anchor="middle" textLength="49.3" lengthAdjust="spacingAndGlyphs" style="fill:#000;stroke:#000;stroke-width:0.22px">Naive cells</text><text x="299.4" y="515.7" font-size="11.2" text-anchor="middle" textLength="65.2" lengthAdjust="spacingAndGlyphs" style="fill:#000;stroke:#000;stroke-width:0.22px">(IgD+CD38+)</text><text x="299.8" y="526.1" font-size="10.0" text-anchor="middle" textLength="10" lengthAdjust="spacingAndGlyphs" style="fill:#000;stroke:#000;stroke-width:0.05px">ns</text></g>
<g><path d="M428.8 527.95V650.6M428.8 650.6H507" stroke="#000" stroke-width="1.6" fill="none"/><path d="M424.5 650.6H428.8M424.5 611.52H428.8M424.5 572.43H428.8M424.5 533.35H428.8" stroke="#000" stroke-width="1.15" fill="none"/><path d="M450.3 650.6V654.6M484.9 650.6V654.6" stroke="#000" stroke-width="1.3" fill="none"/><text x="420.6" y="654.35" font-size="10.4" text-anchor="end" textLength="6.1" lengthAdjust="spacingAndGlyphs" style="stroke-width:0.1px">0</text><text x="420.6" y="615.27" font-size="10.4" text-anchor="end" textLength="12.2" lengthAdjust="spacingAndGlyphs" style="stroke-width:0.1px">10</text><text x="420.6" y="576.18" font-size="10.4" text-anchor="end" textLength="12.2" lengthAdjust="spacingAndGlyphs" style="stroke-width:0.1px">20</text><text x="420.6" y="537.1" font-size="10.4" text-anchor="end" textLength="12.2" lengthAdjust="spacingAndGlyphs" style="stroke-width:0.1px">30</text><path d="M450.3 533.35H484.9M450.3 529.95V536.75M484.9 529.95V536.75" stroke="#000" stroke-width="1.4" fill="none"/><path d="M450.3 556.8L484.9 636.92M450.3 620.51L484.9 640.83M450.3 624.02L484.9 642.78M450.3 630.67L484.9 618.16M450.3 631.06L484.9 638.88M450.3 633.01L484.9 644.74M450.3 635.75L484.9 639.66M450.3 638.09L484.9 646.69M450.3 643.17L484.9 647.47M450.3 644.74L484.9 642M450.3 646.69L484.9 648.65M450.3 649.04L484.9 649.43" stroke="#000" stroke-width="1.15" fill="none"/><circle cx="450.3" cy="556.8" r="2.3" fill="#cc0a2a"/><circle cx="450.3" cy="620.51" r="2.3" fill="#cc0a2a"/><circle cx="450.3" cy="624.02" r="2.3" fill="#cc0a2a"/><circle cx="450.3" cy="630.67" r="2.3" fill="#cc0a2a"/><circle cx="450.3" cy="631.06" r="2.3" fill="#cc0a2a"/><circle cx="450.3" cy="633.01" r="2.3" fill="#cc0a2a"/><circle cx="450.3" cy="635.75" r="2.3" fill="#cc0a2a"/><circle cx="450.3" cy="638.09" r="2.3" fill="#cc0a2a"/><circle cx="450.3" cy="643.17" r="2.3" fill="#cc0a2a"/><circle cx="450.3" cy="644.74" r="2.3" fill="#cc0a2a"/><circle cx="450.3" cy="646.69" r="2.3" fill="#cc0a2a"/><circle cx="450.3" cy="649.04" r="2.3" fill="#cc0a2a"/><circle cx="484.9" cy="636.92" r="2.3" fill="#0f4e8b"/><circle cx="484.9" cy="640.83" r="2.3" fill="#0f4e8b"/><circle cx="484.9" cy="642.78" r="2.3" fill="#0f4e8b"/><circle cx="484.9" cy="618.16" r="2.3" fill="#0f4e8b"/><circle cx="484.9" cy="638.88" r="2.3" fill="#0f4e8b"/><circle cx="484.9" cy="644.74" r="2.3" fill="#0f4e8b"/><circle cx="484.9" cy="639.66" r="2.3" fill="#0f4e8b"/><circle cx="484.9" cy="646.69" r="2.3" fill="#0f4e8b"/><circle cx="484.9" cy="647.47" r="2.3" fill="#0f4e8b"/><circle cx="484.9" cy="642" r="2.3" fill="#0f4e8b"/><circle cx="484.9" cy="648.65" r="2.3" fill="#0f4e8b"/><circle cx="484.9" cy="649.43" r="2.3" fill="#0f4e8b"/><text transform="translate(456.1 663.6) rotate(-45)" font-size="11" text-anchor="end" textLength="39.5" lengthAdjust="spacingAndGlyphs">Pre-RTX</text><text transform="translate(488.5 662.1) rotate(-45)" font-size="11" text-anchor="end" textLength="54.5" lengthAdjust="spacingAndGlyphs">B cell return</text><text x="467.8" y="502.8" font-size="11.2" text-anchor="middle" textLength="85.2" lengthAdjust="spacingAndGlyphs" style="fill:#000;stroke:#000;stroke-width:0.22px">IgD+ memory cells</text><text x="467.3" y="515.7" font-size="11.2" text-anchor="middle" textLength="63" lengthAdjust="spacingAndGlyphs" style="fill:#000;stroke:#000;stroke-width:0.22px">(IgD+CD38−)</text><text x="467.9" y="526.1" font-size="10.0" text-anchor="middle" textLength="25.4" lengthAdjust="spacingAndGlyphs" style="fill:#000;stroke:#000;stroke-width:0.05px">p=.05</text></g>
<g><path d="M74 754.8V877.7M74 877.7H152" stroke="#000" stroke-width="1.6" fill="none"/><path d="M69.7 877.7H74M69.7 848.33H74M69.7 818.95H74M69.7 789.58H74M69.7 760.2H74" stroke="#000" stroke-width="1.15" fill="none"/><path d="M95.5 877.7V881.7M130.1 877.7V881.7" stroke="#000" stroke-width="1.3" fill="none"/><text x="65.8" y="881.45" font-size="10.4" text-anchor="end" textLength="6.1" lengthAdjust="spacingAndGlyphs" style="stroke-width:0.1px">0</text><text x="65.8" y="852.08" font-size="10.4" text-anchor="end" textLength="6.1" lengthAdjust="spacingAndGlyphs" style="stroke-width:0.1px">5</text><text x="65.8" y="822.7" font-size="10.4" text-anchor="end" textLength="12.2" lengthAdjust="spacingAndGlyphs" style="stroke-width:0.1px">10</text><text x="65.8" y="793.33" font-size="10.4" text-anchor="end" textLength="12.2" lengthAdjust="spacingAndGlyphs" style="stroke-width:0.1px">15</text><text x="65.8" y="763.95" font-size="10.4" text-anchor="end" textLength="12.2" lengthAdjust="spacingAndGlyphs" style="stroke-width:0.1px">20</text><path d="M95.5 760.2H130.1M95.5 756.8V763.6M130.1 756.8V763.6" stroke="#000" stroke-width="1.4" fill="none"/><path d="M95.5 834.23L130.1 769.6M95.5 834.81L130.1 829.53M95.5 838.93L130.1 830.7M95.5 848.33L130.1 833.05M95.5 854.2L130.1 840.69M95.5 855.38L130.1 853.61M95.5 856.55L130.1 871.24M95.5 858.9L130.1 859.19M95.5 860.66L130.1 862.43M95.5 864.78L130.1 860.08M95.5 867.12L130.1 863.01M95.5 868.89L130.1 871.83M95.5 870.06L130.1 873M95.5 876.11L130.1 874.18" stroke="#000" stroke-width="1.15" fill="none"/><circle cx="95.5" cy="834.23" r="2.3" fill="#cc0a2a"/><circle cx="95.5" cy="834.81" r="2.3" fill="#cc0a2a"/><circle cx="95.5" cy="838.93" r="2.3" fill="#cc0a2a"/><circle cx="95.5" cy="848.33" r="2.3" fill="#cc0a2a"/><circle cx="95.5" cy="854.2" r="2.3" fill="#cc0a2a"/><circle cx="95.5" cy="855.38" r="2.3" fill="#cc0a2a"/><circle cx="95.5" cy="856.55" r="2.3" fill="#cc0a2a"/><circle cx="95.5" cy="858.9" r="2.3" fill="#cc0a2a"/><circle cx="95.5" cy="860.66" r="2.3" fill="#cc0a2a"/><circle cx="95.5" cy="864.78" r="2.3" fill="#cc0a2a"/><circle cx="95.5" cy="867.12" r="2.3" fill="#cc0a2a"/><circle cx="95.5" cy="868.89" r="2.3" fill="#cc0a2a"/><circle cx="95.5" cy="870.06" r="2.3" fill="#cc0a2a"/><circle cx="95.5" cy="876.11" r="2.3" fill="#cc0a2a"/><circle cx="130.1" cy="769.6" r="2.3" fill="#0f4e8b"/><circle cx="130.1" cy="829.53" r="2.3" fill="#0f4e8b"/><circle cx="130.1" cy="830.7" r="2.3" fill="#0f4e8b"/><circle cx="130.1" cy="833.05" r="2.3" fill="#0f4e8b"/><circle cx="130.1" cy="840.69" r="2.3" fill="#0f4e8b"/><circle cx="130.1" cy="853.61" r="2.3" fill="#0f4e8b"/><circle cx="130.1" cy="871.24" r="2.3" fill="#0f4e8b"/><circle cx="130.1" cy="859.19" r="2.3" fill="#0f4e8b"/><circle cx="130.1" cy="862.43" r="2.3" fill="#0f4e8b"/><circle cx="130.1" cy="860.08" r="2.3" fill="#0f4e8b"/><circle cx="130.1" cy="863.01" r="2.3" fill="#0f4e8b"/><circle cx="130.1" cy="871.83" r="2.3" fill="#0f4e8b"/><circle cx="130.1" cy="873" r="2.3" fill="#0f4e8b"/><circle cx="130.1" cy="874.18" r="2.3" fill="#0f4e8b"/><text transform="translate(101.3 890.7) rotate(-45)" font-size="11" text-anchor="end" textLength="39.5" lengthAdjust="spacingAndGlyphs">Pre-RTX</text><text transform="translate(133.7 889.2) rotate(-45)" font-size="11" text-anchor="end" textLength="54.5" lengthAdjust="spacingAndGlyphs">B cell return</text><text x="112.4" y="730.4" font-size="11.2" text-anchor="middle" textLength="102.8" lengthAdjust="spacingAndGlyphs" style="fill:#000;stroke:#000;stroke-width:0.22px">Post GC memory cells</text><text x="112.5" y="743.2" font-size="11.2" text-anchor="middle" textLength="63.8" lengthAdjust="spacingAndGlyphs" style="fill:#000;stroke:#000;stroke-width:0.22px">(IgD−CD38+)</text><text x="112.75" y="753.3" font-size="10.0" text-anchor="middle" textLength="9.5" lengthAdjust="spacingAndGlyphs" style="fill:#000;stroke:#000;stroke-width:0.05px">ns</text></g>
<g><path d="M260.9 754.8V877.7M260.9 877.7H338.5" stroke="#000" stroke-width="1.6" fill="none"/><path d="M256.6 877.7H260.9M256.6 848.33H260.9M256.6 818.95H260.9M256.6 789.58H260.9M256.6 760.2H260.9" stroke="#000" stroke-width="1.15" fill="none"/><path d="M282.3 877.7V881.7M316.8 877.7V881.7" stroke="#000" stroke-width="1.3" fill="none"/><text x="252.7" y="881.45" font-size="10.4" text-anchor="end" textLength="6.1" lengthAdjust="spacingAndGlyphs" style="stroke-width:0.1px">0</text><text x="252.7" y="852.08" font-size="10.4" text-anchor="end" textLength="6.1" lengthAdjust="spacingAndGlyphs" style="stroke-width:0.1px">5</text><text x="252.7" y="822.7" font-size="10.4" text-anchor="end" textLength="12.2" lengthAdjust="spacingAndGlyphs" style="stroke-width:0.1px">10</text><text x="252.7" y="793.33" font-size="10.4" text-anchor="end" textLength="12.2" lengthAdjust="spacingAndGlyphs" style="stroke-width:0.1px">15</text><text x="252.7" y="763.95" font-size="10.4" text-anchor="end" textLength="12.2" lengthAdjust="spacingAndGlyphs" style="stroke-width:0.1px">20</text><path d="M282.3 760.2H316.8M282.3 756.8V763.6M316.8 756.8V763.6" stroke="#000" stroke-width="1.4" fill="none"/><path d="M282.3 807.79L316.8 793.69M282.3 844.21L316.8 860.08M282.3 855.38L316.8 856.55M282.3 857.73L316.8 868.89M282.3 860.08L316.8 858.31M282.3 861.84L316.8 874.18M282.3 863.6L316.8 861.84M282.3 865.36L316.8 870.65M282.3 867.12L316.8 864.78M282.3 869.48L316.8 867.12M282.3 871.83L316.8 872.41M282.3 877.7L316.8 875.94" stroke="#000" stroke-width="1.15" fill="none"/><circle cx="282.3" cy="807.79" r="2.3" fill="#cc0a2a"/><circle cx="282.3" cy="844.21" r="2.3" fill="#cc0a2a"/><circle cx="282.3" cy="855.38" r="2.3" fill="#cc0a2a"/><circle cx="282.3" cy="857.73" r="2.3" fill="#cc0a2a"/><circle cx="282.3" cy="860.08" r="2.3" fill="#cc0a2a"/><circle cx="282.3" cy="861.84" r="2.3" fill="#cc0a2a"/><circle cx="282.3" cy="863.6" r="2.3" fill="#cc0a2a"/><circle cx="282.3" cy="865.36" r="2.3" fill="#cc0a2a"/><circle cx="282.3" cy="867.12" r="2.3" fill="#cc0a2a"/><circle cx="282.3" cy="869.48" r="2.3" fill="#cc0a2a"/><circle cx="282.3" cy="871.83" r="2.3" fill="#cc0a2a"/><circle cx="282.3" cy="877.7" r="2.3" fill="#cc0a2a"/><circle cx="316.8" cy="793.69" r="2.3" fill="#0f4e8b"/><circle cx="316.8" cy="860.08" r="2.3" fill="#0f4e8b"/><circle cx="316.8" cy="856.55" r="2.3" fill="#0f4e8b"/><circle cx="316.8" cy="868.89" r="2.3" fill="#0f4e8b"/><circle cx="316.8" cy="858.31" r="2.3" fill="#0f4e8b"/><circle cx="316.8" cy="874.18" r="2.3" fill="#0f4e8b"/><circle cx="316.8" cy="861.84" r="2.3" fill="#0f4e8b"/><circle cx="316.8" cy="870.65" r="2.3" fill="#0f4e8b"/><circle cx="316.8" cy="864.78" r="2.3" fill="#0f4e8b"/><circle cx="316.8" cy="867.12" r="2.3" fill="#0f4e8b"/><circle cx="316.8" cy="872.41" r="2.3" fill="#0f4e8b"/><circle cx="316.8" cy="875.94" r="2.3" fill="#0f4e8b"/><text transform="translate(288.1 890.7) rotate(-45)" font-size="11" text-anchor="end" textLength="39.5" lengthAdjust="spacingAndGlyphs">Pre-RTX</text><text transform="translate(320.4 889.2) rotate(-45)" font-size="11" text-anchor="end" textLength="54.5" lengthAdjust="spacingAndGlyphs">B cell return</text><text x="299.95" y="730.4" font-size="11.2" text-anchor="middle" textLength="77.9" lengthAdjust="spacingAndGlyphs" style="fill:#000;stroke:#000;stroke-width:0.22px">DN memory cells</text><text x="299.4" y="743.2" font-size="11.2" text-anchor="middle" textLength="62.6" lengthAdjust="spacingAndGlyphs" style="fill:#000;stroke:#000;stroke-width:0.22px">(IgD−CD38−)</text><text x="299.6" y="753.3" font-size="10.0" text-anchor="middle" textLength="10" lengthAdjust="spacingAndGlyphs" style="fill:#000;stroke:#000;stroke-width:0.05px">ns</text></g>
<g><path d="M428.8 754.8V877.7M428.8 877.7H507" stroke="#000" stroke-width="1.6" fill="none"/><path d="M424.5 877.7H428.8M424.5 854.2H428.8M424.5 830.7H428.8M424.5 807.2H428.8M424.5 783.7H428.8M424.5 760.2H428.8" stroke="#000" stroke-width="1.15" fill="none"/><path d="M450.3 877.7V881.7M484.9 877.7V881.7" stroke="#000" stroke-width="1.3" fill="none"/><text x="420.6" y="881.45" font-size="10.4" text-anchor="end" textLength="6.1" lengthAdjust="spacingAndGlyphs" style="stroke-width:0.1px">0</text><text x="420.6" y="857.95" font-size="10.4" text-anchor="end" textLength="6.1" lengthAdjust="spacingAndGlyphs" style="stroke-width:0.1px">2</text><text x="420.6" y="834.45" font-size="10.4" text-anchor="end" textLength="6.1" lengthAdjust="spacingAndGlyphs" style="stroke-width:0.1px">4</text><text x="420.6" y="810.95" font-size="10.4" text-anchor="end" textLength="6.1" lengthAdjust="spacingAndGlyphs" style="stroke-width:0.1px">6</text><text x="420.6" y="787.45" font-size="10.4" text-anchor="end" textLength="6.1" lengthAdjust="spacingAndGlyphs" style="stroke-width:0.1px">8</text><text x="420.6" y="763.95" font-size="10.4" text-anchor="end" textLength="12.2" lengthAdjust="spacingAndGlyphs" style="stroke-width:0.1px">10</text><path d="M450.3 760.2H484.9M450.3 756.8V763.6M484.9 756.8V763.6" stroke="#000" stroke-width="1.4" fill="none"/><path d="M450.3 840.1L484.9 781M450.3 846.21L484.9 801.91M450.3 830.94L484.9 836.58M450.3 857.37L484.9 814.84M450.3 861.25L484.9 820.36M450.3 864.78L484.9 830.23M450.3 857.37L484.9 852.56M450.3 862.43L484.9 861.72M450.3 865.95L484.9 865.36M450.3 868.3L484.9 874.53M450.3 871.83L484.9 854.2M450.3 875.35L484.9 875.35M450.3 874.18L484.9 855.38" stroke="#000" stroke-width="1.15" fill="none"/><circle cx="450.3" cy="840.1" r="2.3" fill="#cc0a2a"/><circle cx="450.3" cy="846.21" r="2.3" fill="#cc0a2a"/><circle cx="450.3" cy="830.94" r="2.3" fill="#cc0a2a"/><circle cx="450.3" cy="857.37" r="2.3" fill="#cc0a2a"/><circle cx="450.3" cy="861.25" r="2.3" fill="#cc0a2a"/><circle cx="450.3" cy="864.78" r="2.3" fill="#cc0a2a"/><circle cx="450.3" cy="857.37" r="2.3" fill="#cc0a2a"/><circle cx="450.3" cy="862.43" r="2.3" fill="#cc0a2a"/><circle cx="450.3" cy="865.95" r="2.3" fill="#cc0a2a"/><circle cx="450.3" cy="868.3" r="2.3" fill="#cc0a2a"/><circle cx="450.3" cy="871.83" r="2.3" fill="#cc0a2a"/><circle cx="450.3" cy="875.35" r="2.3" fill="#cc0a2a"/><circle cx="450.3" cy="874.18" r="2.3" fill="#cc0a2a"/><circle cx="484.9" cy="781" r="2.3" fill="#0f4e8b"/><circle cx="484.9" cy="801.91" r="2.3" fill="#0f4e8b"/><circle cx="484.9" cy="836.58" r="2.3" fill="#0f4e8b"/><circle cx="484.9" cy="814.84" r="2.3" fill="#0f4e8b"/><circle cx="484.9" cy="820.36" r="2.3" fill="#0f4e8b"/><circle cx="484.9" cy="830.23" r="2.3" fill="#0f4e8b"/><circle cx="484.9" cy="852.56" r="2.3" fill="#0f4e8b"/><circle cx="484.9" cy="861.72" r="2.3" fill="#0f4e8b"/><circle cx="484.9" cy="865.36" r="2.3" fill="#0f4e8b"/><circle cx="484.9" cy="874.53" r="2.3" fill="#0f4e8b"/><circle cx="484.9" cy="854.2" r="2.3" fill="#0f4e8b"/><circle cx="484.9" cy="875.35" r="2.3" fill="#0f4e8b"/><circle cx="484.9" cy="855.38" r="2.3" fill="#0f4e8b"/><text transform="translate(456.1 890.7) rotate(-45)" font-size="11" text-anchor="end" textLength="39.5" lengthAdjust="spacingAndGlyphs">Pre-RTX</text><text transform="translate(488.5 889.2) rotate(-45)" font-size="11" text-anchor="end" textLength="54.5" lengthAdjust="spacingAndGlyphs">B cell return</text><text x="467.75" y="730.4" font-size="11.2" text-anchor="middle" textLength="61.5" lengthAdjust="spacingAndGlyphs" style="fill:#000;stroke:#000;stroke-width:0.22px">Plasmablasts</text><text x="467.5" y="743.2" font-size="11.2" text-anchor="middle" textLength="73" lengthAdjust="spacingAndGlyphs" style="fill:#000;stroke:#000;stroke-width:0.22px">(IgD−CD38++)</text><text x="467.3" y="753.3" font-size="10.0" text-anchor="middle" textLength="25.8" lengthAdjust="spacingAndGlyphs" style="fill:#cc0a2a;stroke:#cc0a2a;stroke-width:0.05px">p=.02</text></g>
<text transform="translate(45.9 120) rotate(-90)" font-size="12.6" text-anchor="middle" textLength="129" lengthAdjust="spacingAndGlyphs" style="stroke:#000;stroke-width:0.5px">Frequency of CD19+ B cells (%)</text>
<text transform="translate(45.9 589) rotate(-90)" font-size="12.6" text-anchor="middle" textLength="129" lengthAdjust="spacingAndGlyphs" style="stroke:#000;stroke-width:0.5px">Frequency of CD19+ B cells (%)</text>
<text x="10" y="21.4" font-size="15.3" font-weight="bold">A</text>
<text x="10.6" y="494.6" font-size="15.3" font-weight="bold">B</text>
<text x="35.3" y="28.4" font-size="12.5" font-weight="bold">a</text>
<text x="221.5" y="30.6" font-size="12.5" font-weight="bold">b</text>
<text x="395.4" y="28.4" font-size="12.5" font-weight="bold">c</text>
<text x="35.4" y="261" font-size="12.5" font-weight="bold">d</text>
<text x="220.9" y="259.6" font-size="12.5" font-weight="bold">e</text>
<text x="395.8" y="260.2" font-size="12.5" font-weight="bold">f</text>
<text x="35.5" y="501.3" font-size="12.5" font-weight="bold">a</text>
<text x="220.9" y="503.5" font-size="12.5" font-weight="bold">b</text>
<text x="395.8" y="502" font-size="12.5" font-weight="bold">c</text>
<text x="35.4" y="730.6" font-size="12.5" font-weight="bold">d</text>
<text x="220.9" y="729.4" font-size="12.5" font-weight="bold">e</text>
<text x="395.8" y="730.6" font-size="12.5" font-weight="bold">f</text>
<rect x="0.75" y="0.75" width="518.5" height="936.5" fill="none" stroke="#000" stroke-width="1.5"/>
</svg></body></html>
